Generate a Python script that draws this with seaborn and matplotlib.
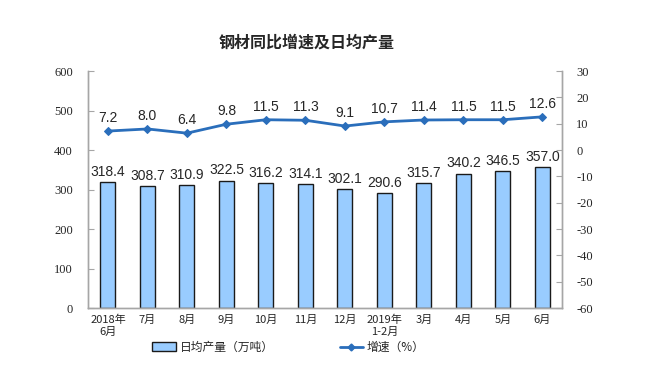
import numpy as np
import pandas as pd
import matplotlib
matplotlib.use("Agg")
import matplotlib.pyplot as plt
import seaborn as sns
from matplotlib.lines import Line2D
from matplotlib.patches import Patch

# data
months = ["2018年\n6月", "7月", "8月", "9月", "10月", "11月", "12月",
          "2019年\n1-2月", "3月", "4月", "5月", "6月"]
daily_output = [318.4, 308.7, 310.9, 322.5, 316.2, 314.1, 302.1,
                290.6, 315.7, 340.2, 346.5, 357.0]
growth = [7.2, 8.0, 6.4, 9.8, 11.5, 11.3, 9.1, 10.7, 11.4, 11.5, 11.5, 12.6]

sns.set_style("white")
plt.rcParams['font.family'] = ['Noto Sans CJK SC', 'DejaVu Sans']
plt.rcParams['axes.unicode_minus'] = False

BAR_COLOR = "#99CCFF"
LINE_COLOR = "#2A6EBB"
AXIS_COLOR = "#A6A6A6"

df = pd.DataFrame({"month": months, "output": daily_output,
                   "growth": growth, "pos": np.arange(len(months))})

fig = plt.figure(figsize=(6.63, 3.88), dpi=100)
ax = fig.add_axes([0.133, 0.206, 0.715, 0.611])

sns.barplot(data=df, x="month", y="output", ax=ax, color=BAR_COLOR,
            edgecolor="#1a1a1a", linewidth=1.0, width=0.38, saturation=1)
ax.set_ylim(0, 600)
ax.set_yticks(range(0, 601, 100))
ax.set_xlim(-0.5, len(months) - 0.5)
ax.set_xlabel("")
ax.set_ylabel("")

for i, v in enumerate(daily_output):
    ax.text(i, v + 8, f"{v:.1f}", ha="center", va="bottom", fontsize=10,
            family="Liberation Sans")

ax2 = ax.twinx()
sns.lineplot(data=df, x="pos", y="growth", ax=ax2, color=LINE_COLOR,
             marker="D", markersize=4.5, markeredgecolor=LINE_COLOR,
             linewidth=2)
ax2.set_ylim(-60, 30)
ax2.set_yticks(range(-60, 31, 10))
ax2.set_xlim(-0.5, len(months) - 0.5)
ax2.set_xlabel("")
ax2.set_ylabel("")

for i, v in enumerate(growth):
    ax2.text(i, v + 2.2, f"{v:.1f}", ha="center", va="bottom", fontsize=10,
             family="Liberation Sans")

# axes styling
for a in (ax, ax2):
    for side in ("left", "right", "bottom"):
        a.spines[side].set_color(AXIS_COLOR)
        a.spines[side].set_linewidth(1.0)
    a.spines["top"].set_visible(False)

ax.tick_params(axis="y", direction="in", length=4, color=AXIS_COLOR,
               labelsize=9, pad=11)
ax2.tick_params(axis="y", direction="in", length=4, color=AXIS_COLOR,
                labelsize=9, pad=10)
for lbl in ax.get_yticklabels() + ax2.get_yticklabels():
    lbl.set_family("Liberation Serif")

ax.set_xticks(np.arange(len(months)))
ax.set_xticklabels(months, fontsize=8, linespacing=1.2)
ax.tick_params(axis="x", which="major", length=0, pad=5)
ax.set_xticks(np.arange(-0.5, len(months)), minor=True)
ax.tick_params(axis="x", which="minor", direction="in", length=3,
               color=AXIS_COLOR)

fig.text(0.463, 0.89, "钢材同比增速及日均产量", ha="center", va="center",
         fontsize=11.5, fontweight="bold")

handles = [Patch(facecolor=BAR_COLOR, edgecolor="#1a1a1a", linewidth=1.0,
                 label="日均产量（万吨）"),
           Line2D([0], [0], color=LINE_COLOR, lw=2, marker="D", markersize=3.5,
                  label="增速（%）")]
fig.legend(handles=handles, loc="center", bbox_to_anchor=(0.435, 0.105),
           ncol=2, frameon=False, fontsize=8.5, columnspacing=5.6,
           handlelength=2.0, handleheight=0.7, handletextpad=0.3)

fig.savefig("out.png", dpi=100)
